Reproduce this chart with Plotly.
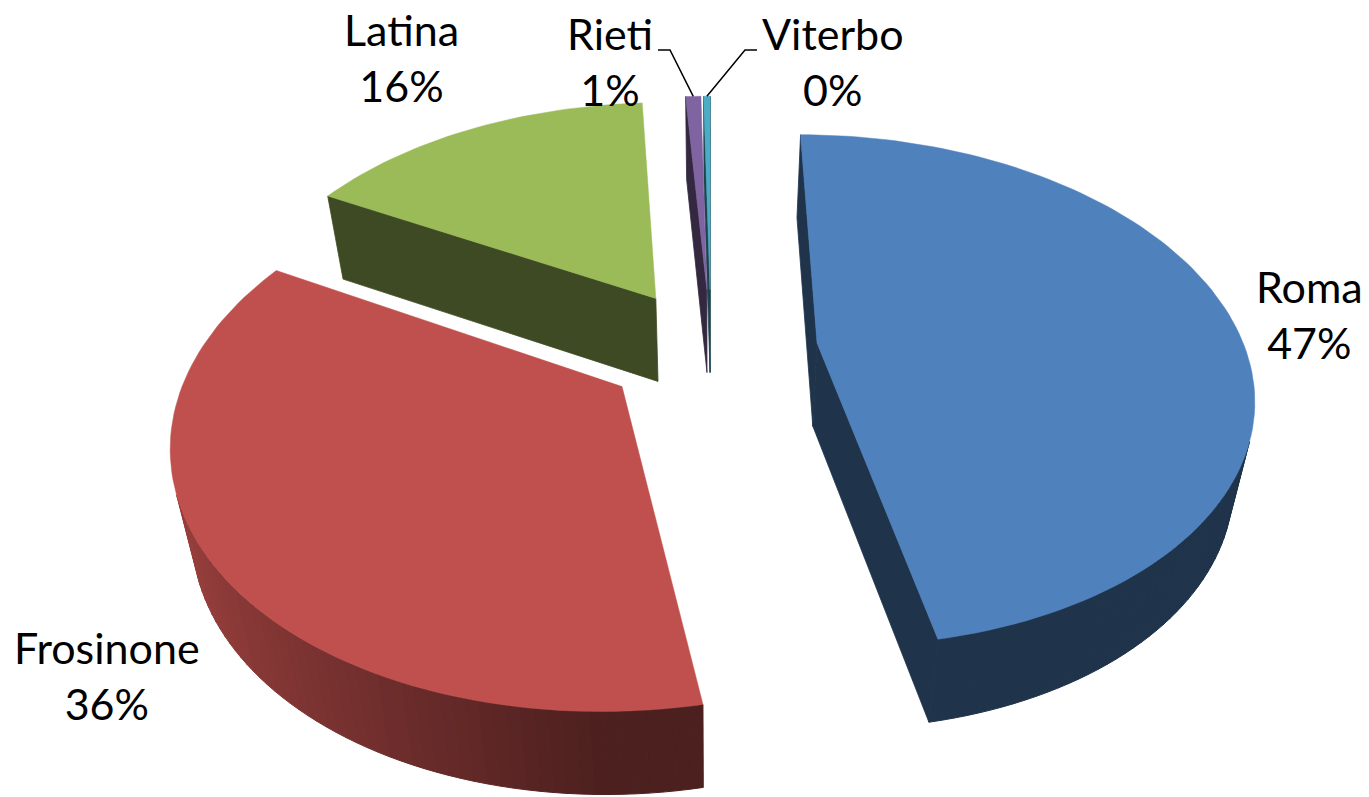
import numpy as np
import plotly.graph_objects as go

# ---------------- data ----------------
categories = ["Roma", "Frosinone", "Latina", "Rieti", "Viterbo"]
values = [47.0, 36.0, 16.0, 0.7, 0.3]
colors = ["#4F81BD", "#C0504D", "#9BBB59", "#8064A2", "#4BACC6"]

# ---------------- layout / projection parameters ----------------
W, H = 1369, 797
CX, CY = 711.0, 349.0       # screen position of pie centre
AX, BY = 428.0, 249.0       # horizontal / vertical radius scale
K = 0.185                   # perspective strength
EXPLODE = 0.25              # explosion (fraction of radius)
THICK = 83.0                # pie thickness in px
CONV = 0.04                 # convergence of vertical edges (perspective)
CAM = np.array([0.0, -3.3])  # camera position projected on pie plane
FONT = "Lato, Carlito, Calibri, 'Open Sans', sans-serif"
FSIZE = 43

# label block centres (layout) and leader elbows
label_xy = {"Roma": (1309, 314), "Frosinone": (107, 675), "Latina": (401, 57),
            "Rieti": (610, 61), "Viterbo": (833, 61)}
leader_elbow = {"Rieti": [(658, 50), (670, 50)], "Viterbo": [(757, 50), (745, 50)]}


def hex_rgb(h):
    h = h.lstrip("#")
    return tuple(int(h[i:i + 2], 16) for i in (0, 2, 4))


def shade(h, f):
    r, g, b = hex_rgb(h)
    return f"rgb({int(r * f)},{int(g * f)},{int(b * f)})"


def proj(X, Z):
    s = 1.0 + K * Z
    return CX + AX * X / s, CY - BY * Z / s


def down(p):
    return (p[0] + (CX - p[0]) * CONV, p[1] + THICK)


fig = go.Figure()


def poly(pts, color, lw=0.0):
    xs = [p[0] for p in pts] + [pts[0][0]]
    ys = [p[1] for p in pts] + [pts[0][1]]
    fig.add_trace(go.Scatter(x=xs, y=ys, fill="toself", fillcolor=color, mode="lines",
                             line=dict(color=color, width=lw), hoverinfo="skip",
                             showlegend=False))


total = sum(values)
frac = np.array(values) / total
ends = np.cumsum(frac) * 2 * np.pi
starts = ends - frac * 2 * np.pi

slices = []
for i, name in enumerate(categories):
    t1, t2 = starts[i], ends[i]
    mid = 0.5 * (t1 + t2)
    ox, oz = EXPLODE * np.sin(mid), EXPLODE * np.cos(mid)
    slices.append((oz, i, t1, t2, mid, ox))

# painter's order: far slices first
slices.sort(key=lambda s: -s[0])

outer_mid = {}
for oz, i, t1, t2, mid, ox in slices:
    col = colors[i]
    apex = proj(ox, oz)
    nseg = max(2, int(np.degrees(t2 - t1) / 1.5))
    ts = np.linspace(t1, t2, nseg + 1)
    outer = [proj(ox + np.sin(t), oz + np.cos(t)) for t in ts]
    center = np.array([ox, oz])

    # radial walls
    for tb, na, pt in ((t1, t1 - np.pi / 2, outer[0]), (t2, t2 + np.pi / 2, outer[-1])):
        n = np.array([np.sin(na), np.cos(na)])
        if n.dot(CAM - center) > 0:
            poly([apex, pt, down(pt), down(apex)], shade(col, 0.4), 0.8)

    # curved outer side
    for j in range(nseg):
        ta, tb = ts[j], ts[j + 1]
        tm = 0.5 * (ta + tb)
        n = np.array([np.sin(tm), np.cos(tm)])
        P = center + n
        if n.dot(CAM - P) > 0:
            f = 0.4 + 0.42 * max(0.0, -np.sin(tm))
            pa, pb = outer[j], outer[j + 1]
            poly([pa, pb, down(pb), down(pa)], shade(col, f), 1.0)

    # top face
    poly([apex] + outer, col, 0.5)
    outer_mid[categories[i]] = proj(ox + np.sin(mid), oz + np.cos(mid))

# leader lines
for name, elbow in leader_elbow.items():
    pts = elbow + [outer_mid[name]]
    fig.add_trace(go.Scatter(x=[p[0] for p in pts], y=[p[1] for p in pts], mode="lines",
                             line=dict(color="black", width=1.5), hoverinfo="skip",
                             showlegend=False))

# labels
for i, name in enumerate(categories):
    pct = int(round(frac[i] * 100))
    x, y = label_xy[name]
    fig.add_annotation(x=x, y=y, xref="x", yref="y", text=f"{name}<br>{pct}%",
                       showarrow=False, xanchor="center", yanchor="middle",
                       font=dict(family=FONT, size=FSIZE, color="black"))

fig.update_layout(width=W, height=H, margin=dict(l=0, r=0, t=0, b=0),
                  paper_bgcolor="white", plot_bgcolor="white", showlegend=False,
                  xaxis=dict(range=[0, W], visible=False, fixedrange=True),
                  yaxis=dict(range=[H, 0], visible=False, fixedrange=True))

fig.write_html("out.html", config={"displayModeBar": False, "staticPlot": True},
               post_script="document.body.style.margin='0';document.body.style.padding='0';"
                           "document.body.style.overflow='hidden';")
